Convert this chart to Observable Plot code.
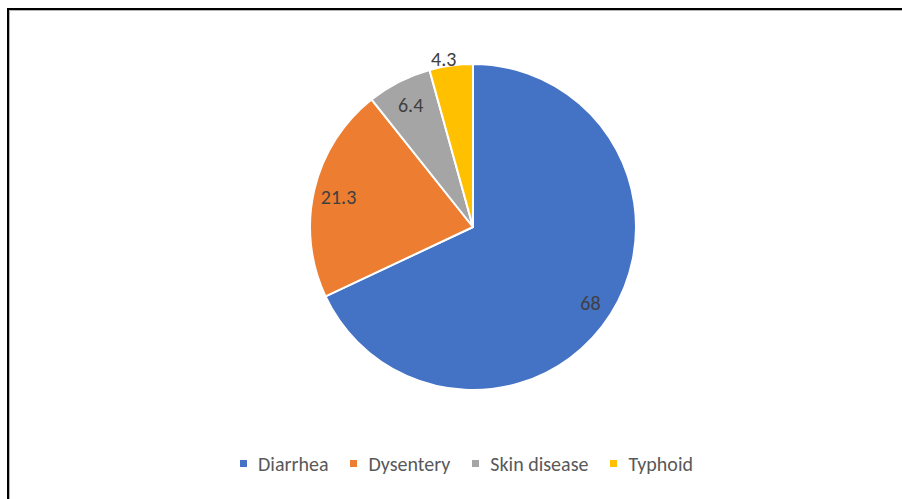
<!DOCTYPE html>
<html>
<head>
<meta charset="utf-8">
<script src="https://cdn.jsdelivr.net/npm/d3@7"></script>
<script src="https://cdn.jsdelivr.net/npm/@observablehq/plot@0.6"></script>
<style>
  html, body { margin: 0; padding: 0; background: #fff; }
  #wrap { position: relative; width: 902px; height: 499px; overflow: hidden; background: #fff; }
  #frame {
    position: absolute; left: 7px; top: 8px; width: 1000px; height: 600px;
    border-top: 2px solid #000; border-left: 2px solid #000;
    box-shadow: inset 1px 1px 0 #b4b4b4;
  }
  #chart { position: absolute; left: 0; top: 0; }
  #legend { position: absolute; left: 240px; top: 447px; }
  #legend .key-swatch { margin-right: 22px !important; }
  #legend .key-swatch > svg { margin-right: 11px !important; }
</style>
</head>
<body>
<div id="wrap">
  <div id="frame"></div>
  <div id="chart"></div>
  <div id="legend"></div>
</div>
<script>
// Share of cases by disease (%)
const categories = ["Diarrhea", "Dysentery", "Skin disease", "Typhoid"];
const values = [68, 21.3, 6.4, 4.3];
const colors = ["#4472C4", "#ED7D31", "#A5A5A5", "#FFC000"];

const font = "Calibri, Carlito, 'Open Sans', sans-serif";

const color = Plot.scale({color: {domain: categories, range: colors}});

// Slices start at 12 o'clock and run clockwise in category order
const slices = d3.pie().sort(null).value(d => d.value)(
  categories.map((name, i) => ({name, value: values[i]}))
);

// Value labels sit inside each slice; slices too thin for text get them just outside the rim
const labels = slices.map(s => {
  const a = (s.startAngle + s.endAngle) / 2;
  const outside = s.endAngle - s.startAngle < 0.3;
  const r = outside ? 1.04 : 0.85;
  return {text: String(s.data.value), x: r * Math.sin(a), y: r * Math.cos(a), outside};
});

// Pie drawn in the plot's own x/y frame: centre at (0,0), radius 1
function pieMark(index, scales) {
  const {x, y} = scales;
  const cx = x(0), cy = y(0), R = x(1) - x(0);
  const arc = d3.arc().innerRadius(0).outerRadius(R);
  const g = d3.create("svg:g").attr("transform", `translate(${cx},${cy})`);
  g.selectAll("path")
    .data(slices)
    .join("path")
    .attr("d", arc)
    .attr("fill", d => color.apply(d.data.name))
    .attr("stroke", "#fff")
    .attr("stroke-width", 2)
    .attr("stroke-linejoin", "round");
  return g.node();
}

const chart = Plot.plot({
  width: 902,
  height: 440,
  margin: 0,
  x: {domain: [-1, 1], range: [310, 636], axis: null},
  y: {domain: [-1, 1], range: [390, 64], axis: null},
  style: {background: "transparent", overflow: "visible"},
  marks: [
    pieMark,
    Plot.text(labels.filter(d => !d.outside), {
      x: "x", y: "y", text: "text", dy: 2,
      fontSize: 20, fontFamily: font, fill: "#404040"
    }),
    Plot.text(labels.filter(d => d.outside), {
      x: "x", y: "y", text: "text", dx: -7,
      fontSize: 20, fontFamily: font, fill: "#404040"
    })
  ]
});
document.getElementById("chart").appendChild(chart);

const legend = Plot.legend({
  color: {domain: categories, range: colors},
  swatchSize: 7,
  className: "key",
  style: {fontSize: "20px", fontFamily: font, color: "#595959", background: "transparent"}
});
document.getElementById("legend").appendChild(legend);
</script>
</body>
</html>
